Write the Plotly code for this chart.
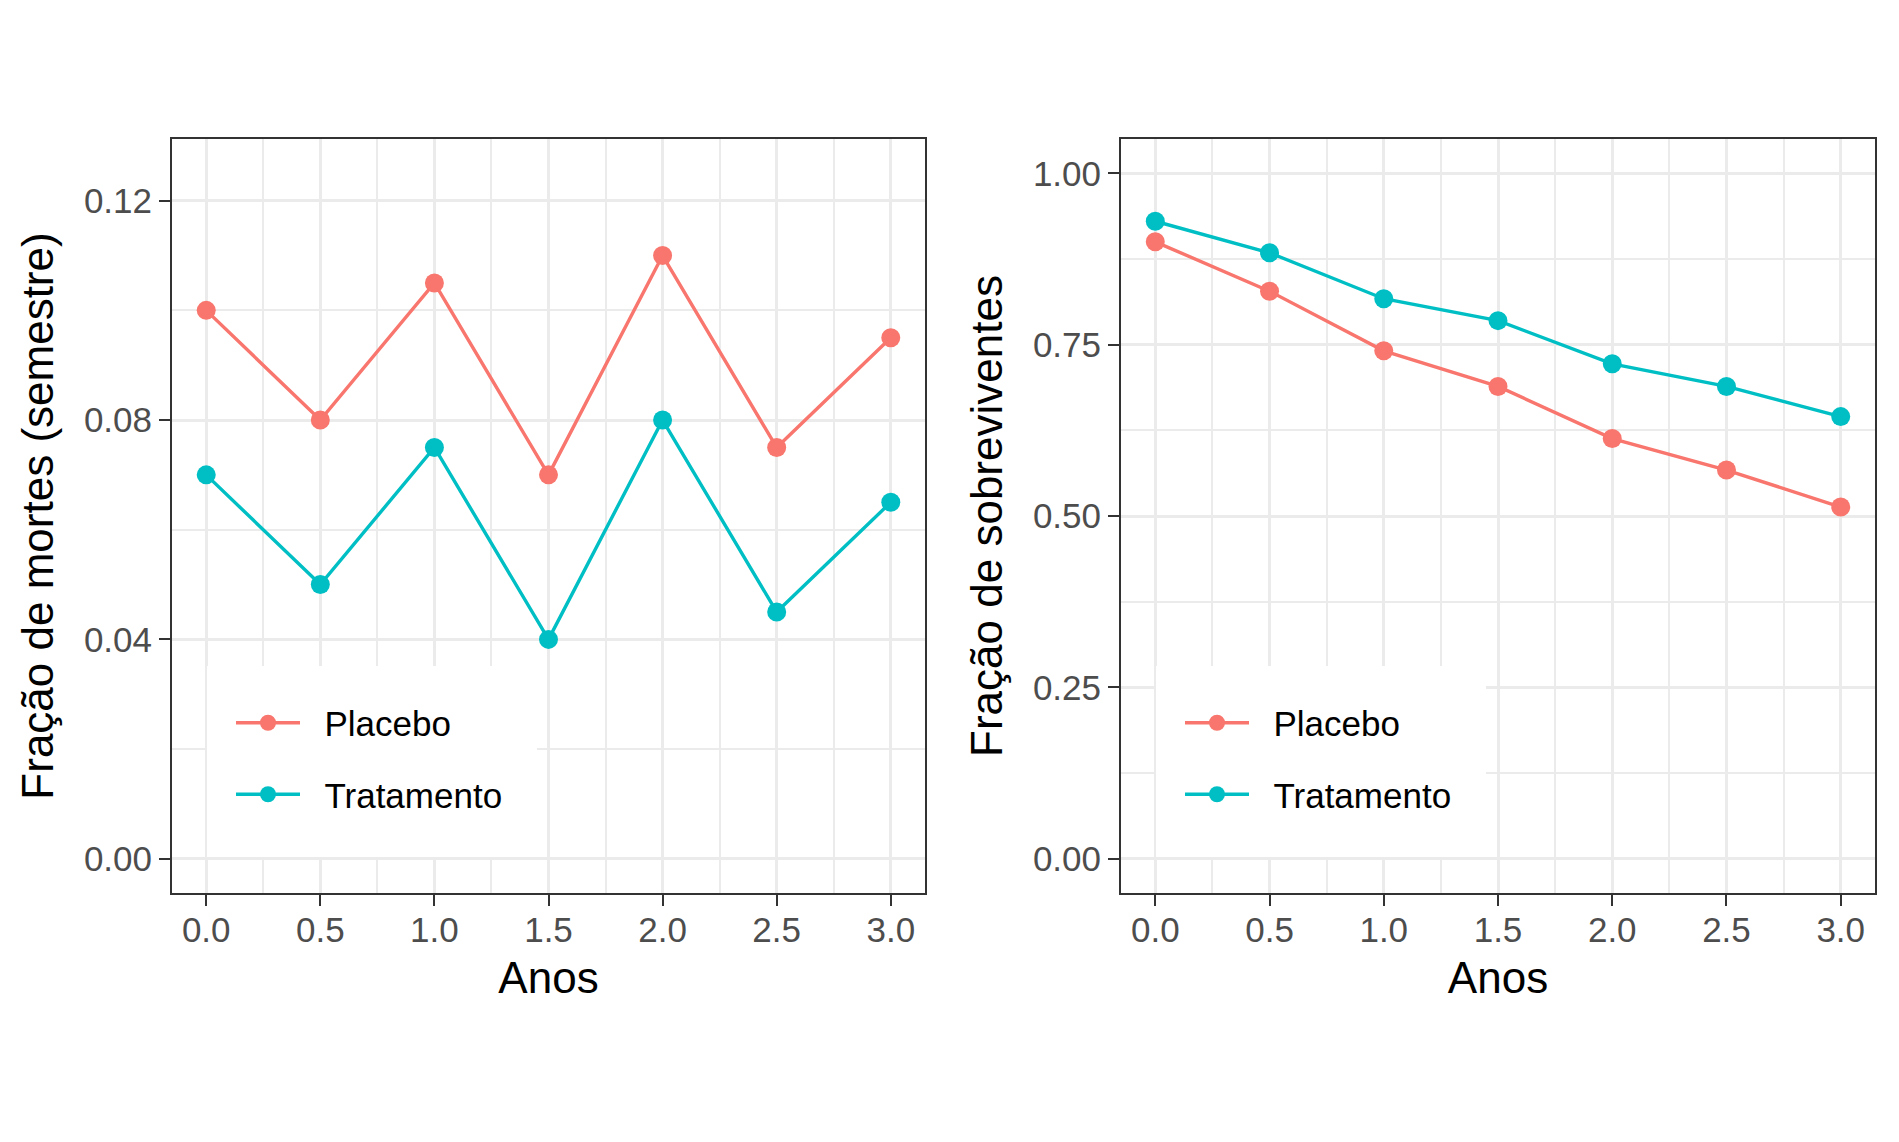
import plotly.graph_objects as go

anos = [0.0, 0.5, 1.0, 1.5, 2.0, 2.5, 3.0]
mortes_placebo = [0.100, 0.080, 0.105, 0.070, 0.110, 0.075, 0.095]
mortes_tratamento = [0.070, 0.050, 0.075, 0.040, 0.080, 0.045, 0.065]
surv_placebo = [0.900, 0.828, 0.741, 0.689, 0.613, 0.567, 0.513]
surv_tratamento = [0.930, 0.884, 0.817, 0.785, 0.722, 0.689, 0.645]
x_ticks = [0.0, 0.5, 1.0, 1.5, 2.0, 2.5, 3.0]
x_ticklabels = ["0.0", "0.5", "1.0", "1.5", "2.0", "2.5", "3.0"]
y1_ticks = [0.00, 0.04, 0.08, 0.12]
y1_ticklabels = ["0.00", "0.04", "0.08", "0.12"]
y2_ticks = [0.00, 0.25, 0.50, 0.75, 1.00]
y2_ticklabels = ["0.00", "0.25", "0.50", "0.75", "1.00"]
series_names = ["Placebo", "Tratamento"]

RED = "#F8766D"
CYAN = "#00BFC4"
W, H = 1899, 1142
FONT = "Liberation Sans, Arial, sans-serif"
PAD = "\u00a0\u00a0"  # gap between legend key and label

fig = go.Figure()

def add(x, y, name, color, xa, ya, legend, group):
    fig.add_trace(go.Scatter(
        x=x, y=y, name=PAD + name, mode="lines+markers",
        line=dict(color=color, width=3.4),
        marker=dict(color=color, size=19),
        xaxis=xa, yaxis=ya, legend=legend, legendgroup=group,
    ))

add(anos, mortes_placebo, series_names[0], RED, "x", "y", "legend", "a1")
add(anos, mortes_tratamento, series_names[1], CYAN, "x", "y", "legend", "a2")
add(anos, surv_placebo, series_names[0], RED, "x2", "y2", "legend2", "b1")
add(anos, surv_tratamento, series_names[1], CYAN, "x2", "y2", "legend2", "b2")

common_axis = dict(
    showline=True, mirror=True, linecolor="#333333", linewidth=2,
    ticks="outside", ticklen=11, tickwidth=2, tickcolor="#333333",
    showgrid=True, gridcolor="#EBEBEB", gridwidth=3,
    zeroline=False, automargin=False,
    tickfont=dict(family=FONT, size=35, color="#4D4D4D"),
)

def xaxis_cfg(domain, anchor):
    return dict(common_axis, domain=domain, anchor=anchor,
                range=[-0.15, 3.15], tickvals=x_ticks, ticktext=x_ticklabels,
                ticklabelstandoff=-6,
                minor=dict(dtick=0.25, tick0=0, showgrid=True, gridcolor="#EBEBEB", gridwidth=1.5),
                title=dict(text="Anos", font=dict(family=FONT, size=44, color="black"), standoff=14))

def yaxis_cfg(anchor, rng, tv, tt, mdt, title):
    return dict(common_axis, domain=[1 - 893 / H, 1 - 139 / H], anchor=anchor,
                range=rng, tickvals=tv, ticktext=tt,
                minor=dict(dtick=mdt, tick0=0, showgrid=True, gridcolor="#EBEBEB", gridwidth=1.5),
                title=dict(text=title, font=dict(family=FONT, size=44, color="black"), standoff=16))

legend_common = dict(
    bgcolor="rgba(0,0,0,0)", borderwidth=0, xanchor="left", yanchor="top",
    font=dict(family=FONT, size=35, color="black"), tracegroupgap=23,
    itemwidth=64,
)

# white legend background boxes (covering grid lines, as in the original)
shapes = []
for dx in (0, 949):
    shapes.append(dict(type="rect", xref="paper", yref="paper", layer="above",
                       x0=(207 + dx) / W, x1=(537 + dx) / W,
                       y0=1 - 857 / H, y1=1 - 666 / H,
                       fillcolor="white", line=dict(width=0)))

fig.update_layout(
    width=W, height=H,
    margin=dict(l=0, r=0, t=0, b=0),
    paper_bgcolor="white", plot_bgcolor="white",
    showlegend=True,
    xaxis=xaxis_cfg([172 / W, 925 / W], "y"),
    xaxis2=xaxis_cfg([1121 / W, 1875 / W], "y2"),
    yaxis=yaxis_cfg("x", [-0.00625, 0.13125], y1_ticks, y1_ticklabels, 0.02, "Fração de mortes (semestre)"),
    yaxis2=yaxis_cfg("x2", [-0.05, 1.05], y2_ticks, y2_ticklabels, 0.125, "Fração de sobreviventes"),
    legend=dict(legend_common, x=231 / W, y=1 - 693.5 / H),
    legend2=dict(legend_common, x=(231 + 949) / W, y=1 - 693.5 / H),
    shapes=shapes,
)

fig.write_html("out.html")
